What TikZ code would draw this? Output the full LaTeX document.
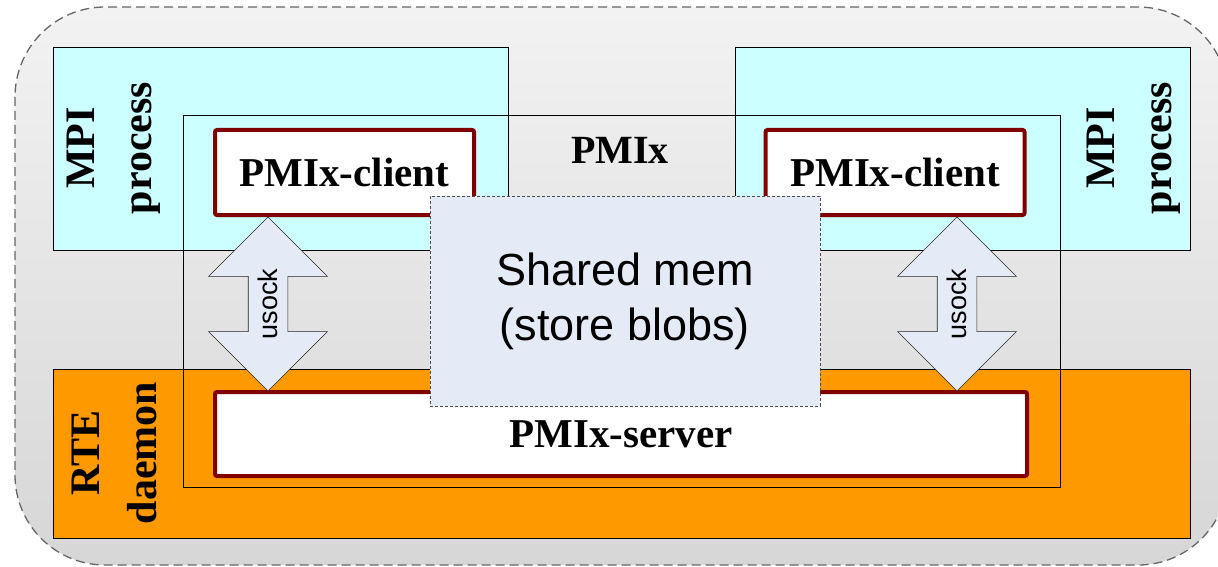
\documentclass[tikz,border=0pt]{standalone}
\usepackage{fontspec}
\setmainfont{Liberation Serif}
\setsansfont{Liberation Sans}
\usetikzlibrary{shapes.arrows}
\definecolor{mpicyan}{HTML}{CCFFFF}
\definecolor{rteorange}{HTML}{FF9900}
\definecolor{pmixred}{HTML}{800000}
\definecolor{blobblue}{HTML}{E5EBF6}

\begin{document}
\begin{tikzpicture}[x=1pt,y=-1pt,
        every node/.style={inner sep=0pt,outer sep=0pt},
        procbox/.style={draw=black,line width=0.8pt,rectangle},
        pmixbox/.style={draw=pmixred,fill=white,line width=4pt,rounded corners=2pt,
            font=\fontsize{41}{49}\selectfont\bfseries},
        sidelabel/.style={rotate=90,align=center,font=\fontsize{42}{57}\selectfont\bfseries},
        sockarrow/.style={double arrow,rotate=90,draw=black!85,fill=blobblue,line width=0.6pt,
            minimum height=174pt,double arrow head extend=39.5pt,
            double arrow tip angle=90,inner ysep=19.5pt}]
        \useasboundingbox (0,0) rectangle (1218,567);
        \path[draw=black!60,dash pattern=on 9pt off 5pt,line width=1.3pt,rounded corners=90pt,
              top color=black!5,bottom color=black!16] (15,7) rectangle (1228,565);
        \node[procbox,fill=mpicyan,minimum width=455pt,minimum height=203pt] (mpiL) at (280.5,148.5) {};
        \node[procbox,fill=mpicyan,minimum width=455pt,minimum height=203pt] (mpiR) at (962.5,148.5) {};
        \node[procbox,fill=rteorange,minimum width=1137pt,minimum height=169pt] (rte) at (621.5,453.5) {};
        \node[procbox,minimum width=877pt,minimum height=372pt] (pmix) at (621.5,301) {};
        \node[pmixbox,minimum width=259pt,minimum height=85pt] (cliL) at (344.5,172.5) {PMIx-client};
        \node[pmixbox,minimum width=259pt,minimum height=85pt] (cliR) at (895,172.5) {PMIx-client};
        \node[pmixbox,minimum width=812pt,minimum height=84pt] (srv) at (621,434) {PMIx-server};
        \node[sockarrow] (sockL) at (268,304) {};
        \node[sockarrow] (sockR) at (957,304) {};
        \node[rotate=90,font=\sffamily\fontsize{27}{32}\selectfont] (sockLlbl) at (sockL.center) {usock};
        \node[rotate=90,font=\sffamily\fontsize{27}{32}\selectfont] (sockRlbl) at (sockR.center) {usock};
        \node[draw=black!70,dash pattern=on 3pt off 2pt,fill=blobblue,line width=0.6pt,
              minimum width=390pt,minimum height=210pt,align=center,
              font=\sffamily\fontsize{45}{55}\selectfont] (shm) at (625,301) {Shared mem\\(store blobs)};
        \node[sidelabel] (mpiLlbl) at (114,148) {MPI\\process};
        \node[sidelabel] (mpiRlbl) at (1134,148) {MPI\\process};
        \node[sidelabel] (rtelbl) at (114,453) {RTE\\daemon};
        \node[font=\fontsize{40}{48}\selectfont\bfseries] (pmixlbl) at (620,150) {PMIx};
    \end{tikzpicture}
\end{document}
